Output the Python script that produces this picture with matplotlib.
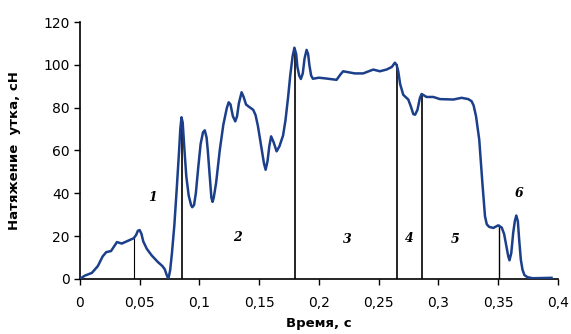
import matplotlib
matplotlib.use('Agg')
import matplotlib.pyplot as plt

# время, с и натяжение утка, сН
t = [0.000, 0.004, 0.010, 0.015, 0.019, 0.022, 0.026, 0.029, 0.031, 0.035,
     0.039, 0.042, 0.045, 0.047, 0.0485, 0.050, 0.0515, 0.053, 0.056, 0.060, 0.065,
     0.069, 0.071, 0.0725, 0.074, 0.0755, 0.077, 0.079, 0.081, 0.083, 0.084, 0.085,
     0.086, 0.0875, 0.089, 0.091, 0.093, 0.094, 0.0955, 0.097, 0.099, 0.101,
     0.103, 0.1045, 0.106, 0.107, 0.109, 0.110, 0.111, 0.112, 0.114,
     0.117, 0.120, 0.123, 0.1245, 0.126, 0.128, 0.130, 0.1315, 0.133, 0.1353,
     0.137, 0.139, 0.141, 0.145, 0.147, 0.149, 0.152, 0.154, 0.1554, 0.157, 0.1585,
     0.160, 0.162, 0.1646, 0.167, 0.170, 0.172, 0.1743, 0.176, 0.178, 0.1795, 0.181,
     0.182, 0.1835, 0.1849, 0.1865, 0.188, 0.1897, 0.191, 0.192, 0.1935, 0.195, 0.200,
     0.2064, 0.2148, 0.218, 0.2203, 0.230, 0.237, 0.2455, 0.251, 0.2566, 0.261,
     0.2636, 0.265, 0.2664, 0.268, 0.2706, 0.2748, 0.277, 0.279, 0.2805, 0.2825,
     0.2845, 0.286, 0.290, 0.2957, 0.3013, 0.3125, 0.3194, 0.325, 0.3278, 0.3295,
     0.3315, 0.3342, 0.3368, 0.339, 0.3405, 0.3425, 0.346, 0.350, 0.353, 0.355,
     0.357, 0.3585, 0.3595, 0.361, 0.3626, 0.364, 0.3652, 0.3665, 0.3676, 0.369,
     0.3704, 0.372, 0.3745, 0.379, 0.3947]
f = [0.0, 1.5, 2.8, 6.0, 10.5, 12.5, 13.0, 15.5, 17.2, 16.5,
     17.5, 18.2, 19.0, 20.5, 22.5, 22.8, 21.0, 17.5, 14.0, 11.0, 8.0,
     6.0, 4.5, 2.0, 0.0, 4.0, 12.0, 25.0, 42.0, 60.0, 70.0, 75.5,
     73.0, 60.0, 48.0, 39.0, 34.5, 33.5, 34.5, 40.0, 52.0, 63.0,
     68.5, 69.4, 66.0, 60.0, 45.0, 38.0, 36.0, 38.0, 45.0,
     60.0, 72.0, 80.0, 82.5, 81.5, 76.0, 73.6, 76.0, 82.0, 87.2,
     85.0, 81.5, 80.6, 79.0, 76.5, 71.3, 61.0, 54.0, 51.0, 55.0, 62.0,
     66.6, 64.0, 59.6, 62.0, 67.0, 74.0, 85.3, 95.0, 104.0, 108.0, 105.0,
     99.0, 95.0, 93.4, 96.0, 103.0, 107.0, 105.0, 100.0, 95.0, 93.5, 94.0,
     93.6, 93.0, 95.5, 97.0, 96.0, 96.0, 97.8, 97.0, 97.8, 99.0,
     101.0, 100.0, 97.0, 91.0, 86.0, 83.8, 80.5, 77.0, 76.7, 79.0,
     84.5, 86.4, 85.0, 85.0, 84.0, 83.8, 84.6, 84.0, 83.0, 81.0,
     76.0, 65.0, 45.0, 29.3, 25.5, 24.3, 23.8, 25.0, 24.0, 21.0,
     15.0, 10.5, 8.7, 12.0, 21.5, 27.0, 29.6, 27.0, 18.4, 9.0,
     4.3, 1.8, 0.8, 0.3, 0.5]

# границы участков
bound_t = [0.045, 0.0855, 0.180, 0.265, 0.2865, 0.3505]
bound_f = [19.0, 75.0, 107.5, 100.0, 86.0, 25.0]
bound_lw = [0.8, 1.2, 1.2, 1.2, 1.2, 1.0]

# номера участков
lab_text = ['1', '2', '3', '4', '5', '6']
lab_t = [0.061, 0.1314, 0.224, 0.2753, 0.314, 0.3674]
lab_f = [38.0, 19.3, 18.3, 18.8, 18.3, 40.0]

xticks = [0, 0.05, 0.1, 0.15, 0.2, 0.25, 0.3, 0.35, 0.4]
xtick_labels = ['0', '0,05', '0,1', '0,15', '0,2', '0,25', '0,3', '0,35', '0,4']
yticks = [0, 20, 40, 60, 80, 100, 120]

fig = plt.figure(figsize=(5.71, 3.34), dpi=100)
ax = fig.add_axes([0.140, 0.165, 0.837, 0.769])

for bt, bf, lw in zip(bound_t, bound_f, bound_lw):
    ax.plot([bt, bt], [0, bf], color='black', lw=lw, zorder=2)

ax.plot(t, f, color='#1b3f8b', lw=1.8, solid_joinstyle='round', zorder=3)

for s, x, y in zip(lab_text, lab_t, lab_f):
    ax.text(x, y, s, family='DejaVu Serif', style='italic', fontweight='bold',
            fontsize=9, ha='center', va='center')

ax.set_xlim(0, 0.4)
ax.set_ylim(0, 120)
ax.set_xticks(xticks)
ax.set_xticklabels(xtick_labels)
ax.set_yticks(yticks)
ax.tick_params(labelsize=10, direction='out', length=4, width=1)
ax.tick_params(axis='x', pad=8)
for side in ['top', 'right']:
    ax.spines[side].set_visible(False)
for side in ['left', 'bottom']:
    ax.spines[side].set_linewidth(1.2)

ax.set_ylabel('Натяжение  утка, сН', fontsize=9.5, fontweight='bold', labelpad=16)
ax.set_xlabel('Время, с', fontsize=9.5, fontweight='bold', labelpad=5)

plt.savefig('out.png', dpi=100)
